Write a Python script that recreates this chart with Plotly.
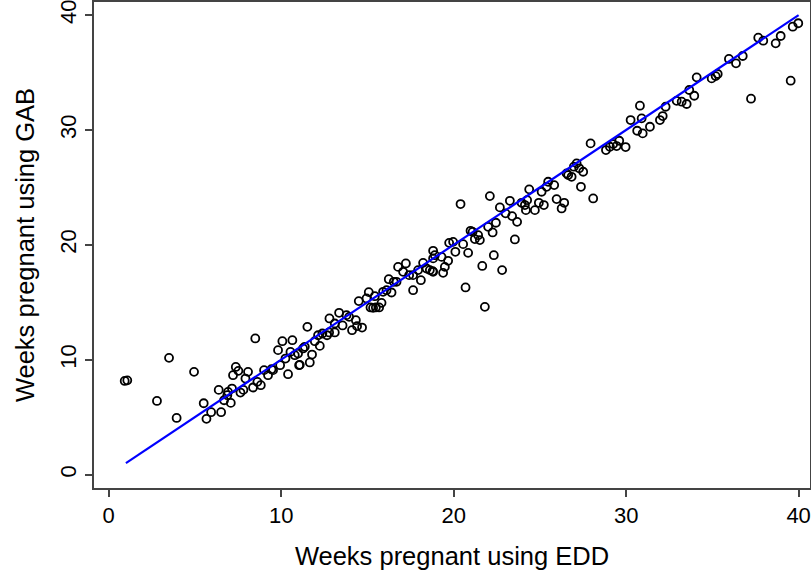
import plotly.graph_objects as go

# Weeks pregnant using EDD (x) and using GAB (y)
edd = [0.93, 1.08, 3.5, 4.95, 2.8, 3.94, 8.5, 5.51, 5.67, 5.94, 6.52, 6.38, 6.92, 6.69, 7.08, 7.15,
       6.88, 7.21, 7.37, 7.52, 7.64, 7.81, 7.93, 8.08, 8.37, 8.62, 8.82, 9.01, 9.24, 9.44, 9.53,
       9.82, 10.07, 10.65, 9.94, 10.4, 10.25, 10.54, 10.79, 11.04,
       11.08, 11.66, 11.79, 12.24, 11.95, 11.52, 10.98, 11.27, 11.37,
       12.14, 12.39, 12.66, 12.78, 13.11, 12.8, 13.36, 13.11, 13.56, 13.79, 13.94,
       14.11, 14.33, 14.4, 14.69, 14.5, 14.95, 15.08, 15.43, 15.18, 15.33, 15.49, 15.68, 15.82,
       15.91, 16.11, 16.4, 16.24, 16.53, 16.69, 16.78, 17.23, 17.07, 17.42, 17.65, 17.65, 18.1,
       17.94, 18.23, 18.43, 18.62, 18.78, 18.81, 18.91, 19.39, 19.49, 19.3, 19.74,
       18.81, 18.81, 19.68, 19.97, 20.1, 20.55, 20.84, 20.4, 20.69,
       20.98, 21.1, 21.23, 21.42, 21.52, 21.66, 21.81, 22.0, 22.26, 22.45, 22.1, 22.33,
       22.68, 23.01, 23.26, 23.39, 23.68, 22.81, 23.55,
       23.94, 24.13, 24.19, 24.26, 24.38, 24.71, 24.94, 25.23, 25.1, 25.48, 25.39, 25.83,
       25.97, 26.26, 26.41, 26.55, 26.64, 26.84, 26.97, 27.13, 27.28, 27.51, 27.38, 28.09, 27.94,
       28.83, 29.06, 29.25, 29.45, 29.6, 29.97, 30.26, 30.8, 30.9, 30.64, 30.96, 31.38,
       31.96, 32.12, 32.29, 32.93, 33.22, 33.51, 33.66, 33.95, 34.09, 34.96, 35.19, 35.31,
       35.96, 36.37, 36.76, 37.24, 37.66, 37.95, 38.67, 38.96, 39.54, 39.66, 39.98]
gab = [8.15, 8.2, 10.16, 8.94, 6.41, 4.93, 11.85, 6.21, 4.85, 5.43, 5.43, 7.37, 7.2, 6.47, 6.24, 7.49,
       6.91, 8.65, 9.37, 9.03, 7.14, 7.37, 8.36, 8.94, 7.58, 8.07, 7.78, 9.09, 8.65, 9.17, 9.09,
       10.83, 11.61, 11.7, 9.52, 8.74, 10.1, 10.68, 10.39, 9.52,
       9.55, 9.76, 10.45, 11.2, 11.61, 12.86, 10.54, 10.98, 11.12,
       12.13, 12.28, 12.13, 12.37, 12.37, 13.59, 14.08, 13.15, 12.98, 13.88, 13.73,
       12.57, 13.44, 12.92, 12.8, 15.1, 15.33, 15.88, 15.53, 14.55, 14.51, 14.55, 14.55, 14.95,
       15.91, 16.05, 15.85, 17.01, 16.78, 16.78, 18.08, 18.38, 17.65, 17.36, 17.36, 16.05, 16.92,
       17.8, 18.43, 17.94, 17.8, 17.71, 19.48, 19.1, 17.56, 18.08, 18.95, 20.17,
       18.82, 17.65, 18.61, 20.26, 19.39, 20.06, 19.3, 23.55, 16.29,
       21.22, 21.13, 20.5, 20.84, 20.41, 18.16, 14.6, 21.57, 21.08, 21.92, 24.24, 19.1,
       23.26, 22.74, 23.83, 22.5, 22.0, 17.8, 20.47,
       23.66, 23.46, 23.02, 23.89, 24.83, 23.02, 23.66, 23.46, 24.62, 25.49, 25.05, 25.2,
       23.98, 23.17, 23.66, 26.22, 26.07, 25.92, 26.8, 27.09, 26.66, 26.36, 25.05, 24.04, 28.83,
       28.25, 28.54, 28.77, 28.6, 29.06, 28.51, 30.86, 32.11, 31.01, 29.93, 29.7, 30.28,
       30.86, 31.21, 32.02, 32.54, 32.46, 32.26, 33.48, 32.98, 34.58, 34.49, 34.69, 34.87,
       36.18, 35.8, 36.44, 32.72, 38.03, 37.77, 37.54, 38.18, 34.29, 38.99, 39.29]

line_x = [1, 40]
line_y = [1, 40]

x_ticks = [0, 10, 20, 30, 40]
y_ticks = [0, 10, 20, 30, 40]

FONT = "Liberation Sans, Arial, sans-serif"

fig = go.Figure()
fig.add_trace(go.Scatter(
    x=edd, y=gab, mode="markers",
    marker=dict(symbol="circle-open", size=8, color="black", line=dict(width=1.8, color="black")),
    showlegend=False, hoverinfo="skip"))
fig.add_trace(go.Scatter(
    x=line_x, y=line_y, mode="lines",
    line=dict(color="#0000ff", width=2.2),
    showlegend=False, hoverinfo="skip"))

axis_common = dict(
    showgrid=False, zeroline=False, showline=True, mirror=True,
    linecolor="#444444", linewidth=2,
    ticks="outside", ticklen=7, tickwidth=1.5, tickcolor="#444444",
    tickfont=dict(family=FONT, size=22, color="black"),
    automargin=False, ticklabeloverflow="allow",
)

fig.update_layout(
    width=811, height=573,
    margin=dict(l=94, r=1, t=2, b=85),
    paper_bgcolor="white", plot_bgcolor="white",
    xaxis=dict(range=[-0.85, 40.66], tickvals=x_ticks,
               title=dict(text="Weeks pregnant using EDD", font=dict(family=FONT, size=25.5, color="black"), standoff=20),
               **axis_common),
    yaxis=dict(range=[-1.17, 41.14], tickvals=y_ticks, tickangle=-90,
               title=dict(text="Weeks pregnant using GAB", font=dict(family=FONT, size=25.5, color="black"), standoff=14),
               **axis_common),
)

fig.write_html("out.html", config={"displayModeBar": False},
               post_script="document.body.style.margin='0';document.body.style.overflow='hidden';")
